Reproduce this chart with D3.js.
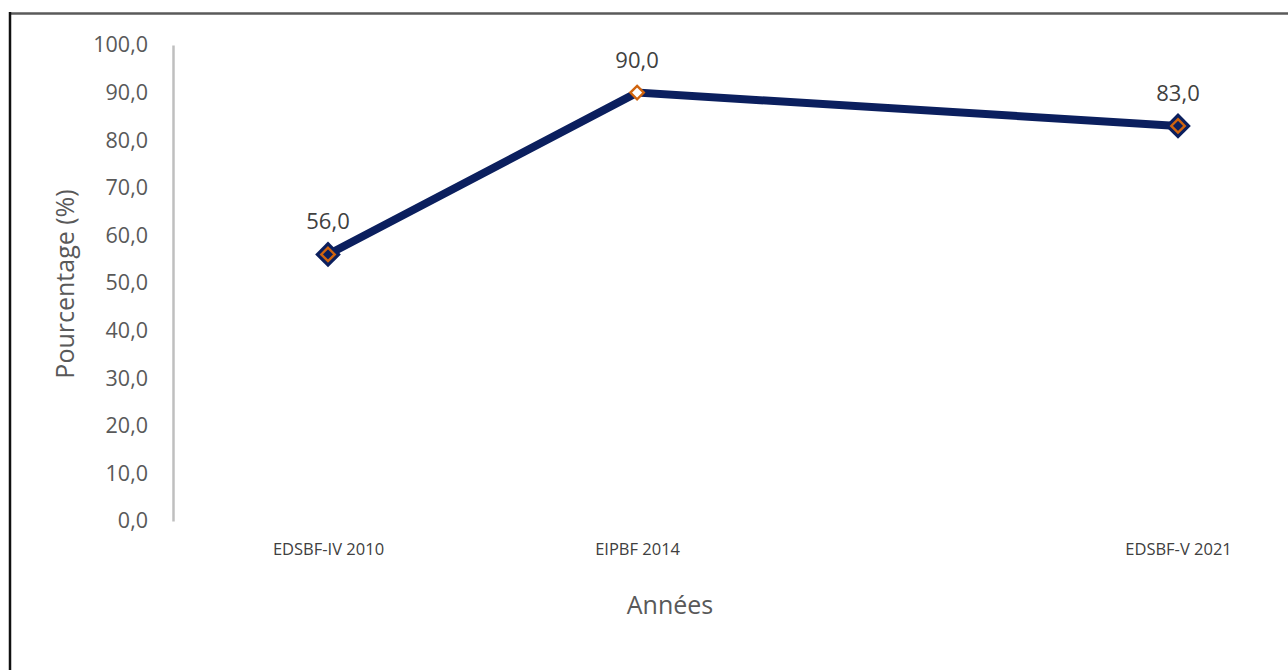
<!DOCTYPE html>
<html lang="fr">
<head>
<meta charset="utf-8">
<script src="https://cdn.jsdelivr.net/npm/d3@7"></script>
<style>
  html, body { margin: 0; padding: 0; background: #fff; }
  svg { display: block; font-family: "Open Sans", "Noto Sans", sans-serif; }
</style>
</head>
<body>
<svg id="chart" width="1288" height="670"></svg>
<script>
// Survey rounds and their share (%)
const surveys = ["EDSBF-IV 2010", "EIPBF 2014", "EDSBF-V 2021"];
const years = [2010, 2014, 2021];
const values = [56.0, 90.0, 83.0];
const yTicks = [0, 10, 20, 30, 40, 50, 60, 70, 80, 90, 100];

const svg = d3.select("#chart");
const fmt = v => d3.format(".1f")(v).replace(".", ",");

// Frame: top and left edges
svg.append("line").attr("x1", 9).attr("x2", 1288).attr("y1", 13.5).attr("y2", 13.5)
  .attr("stroke", "#5a5a5a").attr("stroke-width", 2.5);
svg.append("line").attr("x1", 10).attr("x2", 10).attr("y1", 12).attr("y2", 670)
  .attr("stroke", "#111").attr("stroke-width", 2.5);

// Scales: horizontal position follows the survey year
const x = d3.scaleLinear().domain([2010, 2021]).range([328, 1178]);
const y = d3.scaleLinear().domain([0, 100]).range([521, 45]);

// Vertical axis
const yAxis = svg.append("g").attr("transform", "translate(173,0)")
  .call(d3.axisLeft(y).tickValues(yTicks).tickFormat(fmt).tickSize(0).tickPadding(25));
yAxis.select(".domain").attr("stroke", "#bfbfbf").attr("stroke-width", 2.5);
yAxis.selectAll("text").attr("fill", "#595959").style("font-size", "21.5px")
  .style("font-family", "'Open Sans', sans-serif");

// Category labels
const xAxis = svg.append("g").attr("transform", "translate(0,521)")
  .call(d3.axisBottom(x).tickValues(years).tickFormat((d, i) => surveys[i]).tickSize(0).tickPadding(22));
xAxis.select(".domain").remove();
xAxis.selectAll("text").attr("fill", "#404040").style("font-size", "16.5px")
  .style("font-family", "'Open Sans', sans-serif");

// Axis titles
svg.append("text").attr("transform", "translate(74,284) rotate(-90)")
  .attr("text-anchor", "middle").attr("fill", "#595959")
  .style("font-size", "25px").text("Pourcentage (%)");
svg.append("text").attr("x", 670).attr("y", 614)
  .attr("text-anchor", "middle").attr("fill", "#595959")
  .style("font-size", "25px").text("Années");

const pts = years.map((yr, i) => ({ yr, v: values[i], i }));

// Series line
svg.append("path").datum(pts)
  .attr("fill", "none").attr("stroke", "#0b1f5e").attr("stroke-width", 8)
  .attr("stroke-linejoin", "miter")
  .attr("d", d3.line().x(d => x(d.yr)).y(d => y(d.v)));

// Markers: navy diamond with an orange outlined diamond inside
const outer = d3.symbol().type(d3.symbolDiamond2).size(420);
const inner = d3.symbol().type(d3.symbolDiamond2).size(115);
const mk = svg.append("g").selectAll("g").data(pts).join("g")
  .attr("transform", d => `translate(${x(d.yr)},${y(d.v)})`);
mk.filter(d => d.i !== 1).append("path").attr("d", outer).attr("fill", "#0b1f5e");
mk.append("path").attr("d", inner)
  .attr("fill", d => d.i === 1 ? "#fff" : "#0b1f5e")
  .attr("stroke", "#d0640e").attr("stroke-width", 2.4);

// Value labels
svg.append("g").selectAll("text").data(pts).join("text")
  .attr("x", d => x(d.yr)).attr("y", d => y(d.v) - 25)
  .attr("text-anchor", "middle").attr("fill", "#404040")
  .style("font-size", "22px").text(d => fmt(d.v));
</script>
</body>
</html>
